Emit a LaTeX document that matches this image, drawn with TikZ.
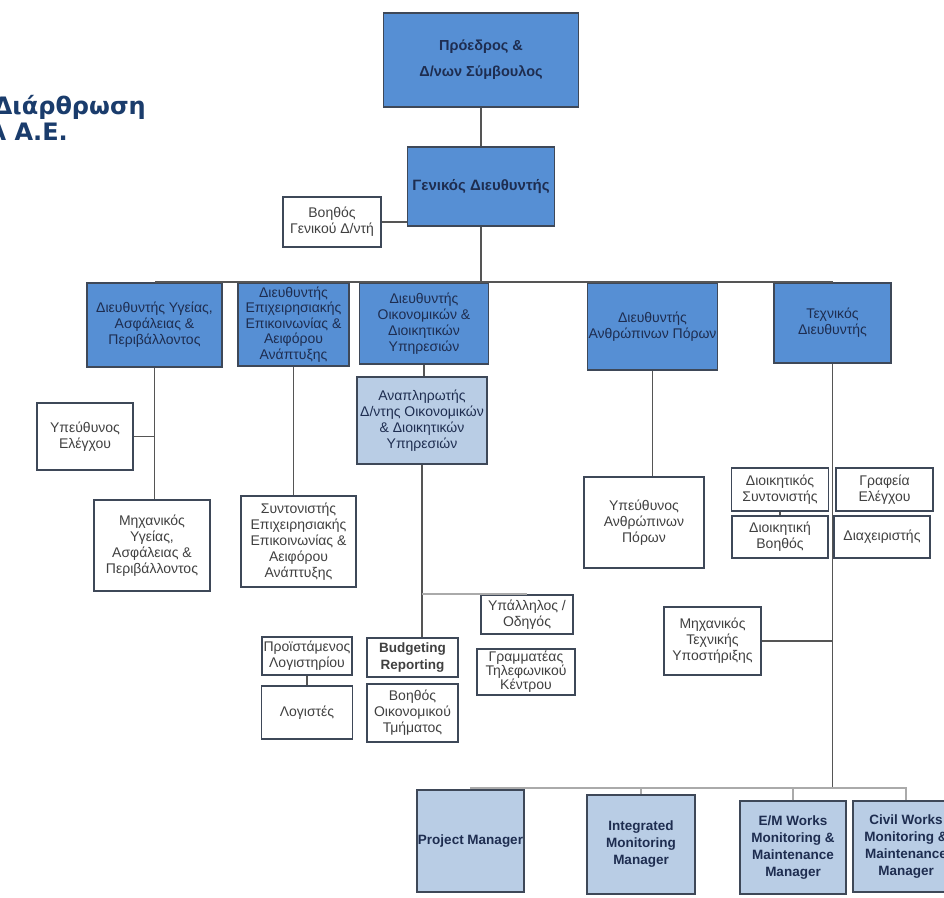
\documentclass[tikz,border=0pt]{standalone}
\usepackage{fontspec}
\setmainfont{Liberation Sans}
\newfontfamily\titlefont{DejaVu Sans}
\definecolor{darkfill}{RGB}{86,143,212}
\definecolor{lightfill}{RGB}{185,205,229}
\definecolor{boxline}{RGB}{62,72,88}
\definecolor{wirec}{RGB}{85,85,85}
\definecolor{faintc}{RGB}{170,170,170}
\definecolor{navy}{RGB}{30,45,80}
\definecolor{titleblue}{RGB}{26,60,108}

\begin{document}
\begin{tikzpicture}[x=1pt, y=-1pt,
        box/.style = {draw=boxline, line width=1.4pt, align=center, inner sep=1pt, font=\fontsize{14}{16}\selectfont},
        dark/.style = {box, fill=darkfill, text=navy},
        light/.style = {box, fill=lightfill, text=navy},
        plain/.style = {box, fill=white, text=black!75},
        bold/.style = {font=\bfseries\fontsize{13.5}{17}\selectfont},
        sz/.style 2 args = {minimum width=#1, minimum height=#2},
        wire/.style = {draw=wirec, line width=1.8pt},
        faint/.style = {draw=faintc, line width=1.8pt}]

        \useasboundingbox (0,0) rectangle (944,897);
        \clip (0,0) rectangle (944,897);
        \fill[white] (0,0) rectangle (944,897);

        \node[anchor=base east, inner sep=0, text=titleblue, font=\titlefont\bfseries\fontsize{24}{28}\selectfont] (t1) at (146,114) {Διάρθρωση};
        \node[anchor=base east, inner sep=0, text=titleblue, font=\titlefont\bfseries\fontsize{24}{28}\selectfont] (t2) at (68,140) {Α Α.Ε.};

        \node[dark, sz={195}{94}, font=\bfseries\fontsize{14.5}{26}\selectfont] (1) at (481,60) {Πρόεδρος \&\\Δ/νων Σύμβουλος};
        \node[dark, sz={147}{79}, font=\bfseries\fontsize{15}{18}\selectfont] (2) at (481,186.5) {Γενικός Διευθυντής};
        \node[plain, sz={98}{50}] (3) at (332,222) {Βοηθός\\Γενικού Δ/ντή};

        \node[dark, sz={135}{84}] (4) at (154.5,325) {Διευθυντής Υγείας,\\Ασφάλειας \&\\Περιβάλλοντος};
        \node[dark, sz={111}{83}, font=\fontsize{14}{15.5}\selectfont] (5) at (293.5,324.5) {Διευθυντής\\Επιχειρησιακής\\Επικοινωνίας \&\\Αειφόρου\\Ανάπτυξης};
        \node[dark, sz={129}{81}] (6) at (424,323.5) {Διευθυντής\\Οικονομικών \&\\Διοικητικών\\Υπηρεσιών};
        \node[dark, sz={129}{87}] (7) at (652.5,326.5) {Διευθυντής\\Ανθρώπινων Πόρων};
        \node[dark, sz={117}{80}] (8) at (832.5,323) {Τεχνικός\\Διευθυντής};

        \node[light, sz={130}{87}] (9) at (422,420.5) {Αναπληρωτής\\Δ/ντης Οικονομικών\\\& Διοικητικών\\Υπηρεσιών};
        \node[plain, sz={96}{67}] (10) at (85,436.5) {Υπεύθυνος\\Ελέγχου};
        \node[plain, sz={116}{91}] (11) at (152,545.5) {Μηχανικός\\Υγείας,\\Ασφάλειας \&\\Περιβάλλοντος};
        \node[plain, sz={115}{91}] (12) at (298.5,541.5) {Συντονιστής\\Επιχειρησιακής\\Επικοινωνίας \&\\Αειφόρου\\Ανάπτυξης};
        \node[plain, sz={120}{91}] (13) at (644,522.5) {Υπεύθυνος\\Ανθρώπινων\\Πόρων};
        \node[plain, sz={97}{43}] (14) at (780,489.5) {Διοικητικός\\Συντονιστής};
        \node[plain, sz={97}{43}] (15) at (884.5,489.5) {Γραφεία\\Ελέγχου};
        \node[plain, sz={96}{42}] (16) at (780,537) {Διοικητική\\Βοηθός};
        \node[plain, sz={96}{42}] (17) at (882,537) {Διαχειριστής};
        \node[plain, sz={97}{68}] (18) at (712.5,641) {Μηχανικός\\Τεχνικής\\Υποστήριξης};
        \node[plain, sz={92}{39}] (19) at (527,614.5) {Υπάλληλος /\\Οδηγός};
        \node[plain, sz={98}{46}, font=\fontsize{14}{14}\selectfont] (20) at (526,672) {Γραμματέας\\Τηλεφωνικού\\Κέντρου};
        \node[plain, sz={91}{39}, bold] (21) at (412.5,657.5) {Budgeting\\Reporting};
        \node[plain, sz={91}{58}] (22) at (412.5,713) {Βοηθός\\Οικονομικού\\Τμήματος};
        \node[plain, sz={90}{38}] (23) at (307,656) {Προϊστάμενος\\Λογιστηρίου};
        \node[plain, sz={91}{53}] (24) at (307,712.5) {Λογιστές};

        \node[light, sz={107}{102}, bold] (25) at (470.5,841) {Project Manager};
        \node[light, sz={108}{99}, bold] (26) at (641,844.5) {Integrated\\Monitoring\\Manager};
        \node[light, sz={106}{93}, bold] (27) at (793,847.5) {E/M Works\\Monitoring \&\\Maintenance\\Manager};
        \node[light, sz={106}{91}, bold] (28) at (906,846.5) {Civil Works\\Monitoring \&\\Maintenance\\Manager};
        \coordinate (low) at (832.5,788);

        \draw[wire] (1) -- (2);
        \draw[wire] (3) -- (3 -| 2.west);
        \draw[wire] (2) |- (4.north);
        \draw[wire] (2) |- (8.north);
        \draw[wire] (6) -- (6 |- 9.north);
        \draw[wire] (4) -- (4 |- 11.north);
        \draw[wire] (10) -- (10 -| 4);
        \draw[wire] (5) -- (5 |- 12.north);
        \draw[wire] (7) -- (7 |- 13.north);
        \draw[wire] (9) -- (9 |- 21.north);
        \draw[faint] (9 |- 19.north) -- (19.north);
        \draw[wire] (23) -- (24);
        \draw[wire] (14) -- (16);
        \draw[wire] (8) -- (low);
        \draw[wire] (18) -- (18 -| 8);
        \draw[faint] (25) |- (low);
        \draw[faint] (low) -| (28);
        \draw[faint] (26) -- (26 |- low);
        \draw[faint] (27) -- (27 |- low);
\end{tikzpicture}
\end{document}
